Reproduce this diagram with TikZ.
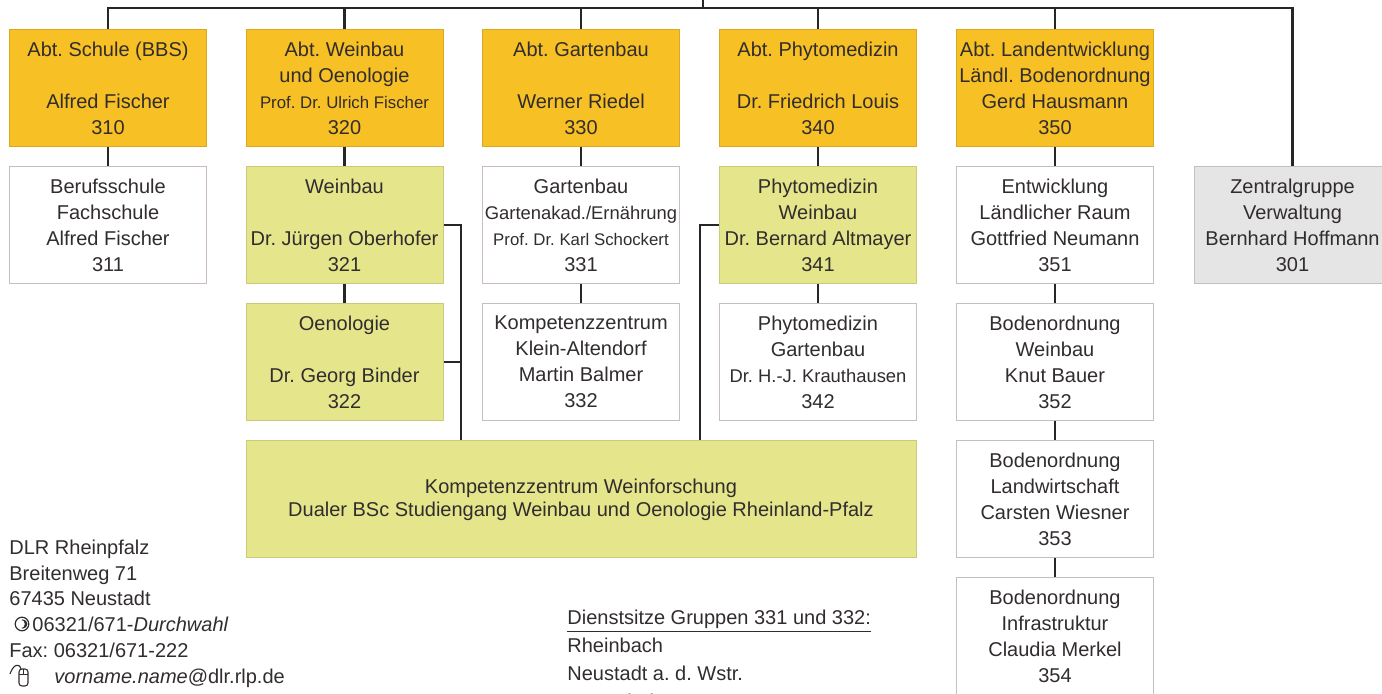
\documentclass[tikz,border=0pt]{standalone}
\usepackage{fontspec}
\setmainfont{Liberation Sans}
\frenchspacing
\definecolor{abtgelb}{RGB}{247,192,36}
\definecolor{weingruen}{RGB}{229,229,140}
\definecolor{zgrau}{RGB}{229,229,229}
\definecolor{rand}{RGB}{200,190,190}
\definecolor{schrift}{RGB}{50,45,45}
\begin{document}
\begin{tikzpicture}[x=0.5pt,y=-0.5pt,
    einheit/.style={draw=rand,fill=white,line width=0.5pt,minimum width=98.5pt,minimum height=58.5pt,
      inner sep=0pt,align=center,text=schrift,font=\fontsize{10}{13}\selectfont},
    abt/.style={einheit,fill=abtgelb,draw=abtgelb!88!black},
    wein/.style={einheit,fill=weingruen,draw=weingruen!88!black},
    zentral/.style={einheit,fill=zgrau},
    linie/.style={line width=1.3pt,draw=black!85},
    info/.style={inner sep=0pt,align=left,text=schrift,anchor=north west}]
  \path[use as bounding box] (0,0) rectangle (1382,694);
  \clip (0,0) rectangle (1382,694);

  \node[abt] (a310) at (108,88) {Abt. Schule (BBS)\\[13pt]Alfred Fischer\\310};
  \node[abt] (a320) at (344.5,88) {Abt. Weinbau\\und Oenologie\\{\fontsize{8.4}{13}\selectfont Prof. Dr. Ulrich Fischer}\\320};
  \node[abt] (a330) at (581,88) {Abt. Gartenbau\\[13pt]Werner Riedel\\330};
  \node[abt] (a340) at (818,88) {Abt. Phytomedizin\\[13pt]Dr. Friedrich Louis\\340};
  \node[abt] (a350) at (1055,88) {Abt. Landentwicklung\\Ländl. Bodenordnung\\Gerd Hausmann\\350};

  \node[einheit] (g311) at (108,225) {Berufsschule\\Fachschule\\Alfred Fischer\\311};
  \node[wein] (g321) at (344.5,225) {Weinbau\\[13pt]Dr. Jürgen Oberhofer\\321};
  \node[einheit] (g331) at (581,225) {Gartenbau\\{\fontsize{9.2}{13}\selectfont Gartenakad./Ernährung}\\{\fontsize{8.4}{13}\selectfont Prof. Dr. Karl Schockert}\\331};
  \node[wein] (g341) at (818,225) {Phytomedizin\\Weinbau\\Dr. Bernard Altmayer\\341};
  \node[einheit] (g351) at (1055,225) {Entwicklung\\Ländlicher Raum\\Gottfried Neumann\\351};
  \node[zentral] (g301) at (1292.5,225) {Zentralgruppe\\Verwaltung\\Bernhard Hoffmann\\301};

  \node[wein] (g322) at (344.5,362) {Oenologie\\[13pt]Dr. Georg Binder\\322};
  \node[einheit] (g332) at (581,362) {Kompetenzzentrum\\Klein-Altendorf\\Martin Balmer\\332};
  \node[einheit] (g342) at (818,362) {Phytomedizin\\Gartenbau\\{\fontsize{9.2}{13}\selectfont Dr. H.-J. Krauthausen}\\342};
  \node[einheit] (g352) at (1055,362) {Bodenordnung\\Weinbau\\Knut Bauer\\352};

  \node[wein,minimum width=335pt] (kwf) at (581,499.5) {Kompetenzzentrum Weinforschung\\[-1.5pt]Dualer BSc Studiengang Weinbau und Oenologie Rheinland-Pfalz};
  \node[einheit] (g353) at (1055,499.5) {Bodenordnung\\Landwirtschaft\\Carsten Wiesner\\353};
  \node[einheit] (g354) at (1055,636.5) {Bodenordnung\\Infrastruktur\\Claudia Merkel\\354};

  \coordinate (stamm) at (703,0);
  \coordinate (bus) at (703,8);
  \coordinate (kl) at ([xshift=-60pt]kwf.north);
  \coordinate (kr) at ([xshift=59.5pt]kwf.north);

  \draw[linie] (stamm) -- (bus);
  \draw[linie] (a310.north) -- (a310.north |- bus) -- (g301.north |- bus) -- (g301.north);
  \foreach \n in {a320,a330,a340,a350}
    \draw[linie] (\n.north) -- (\n.north |- bus);
  \foreach \o/\u in {a310/g311,a320/g321,g321/g322,a330/g331,g331/g332,a340/g341,g341/g342,a350/g351,g351/g352,g352/g353,g353/g354}
    \draw[linie] (\o.south) -- (\u.north);
  \draw[linie] (g321.east) -| (kl);
  \draw[linie] (g322.east) -- (g322.east -| kl);
  \draw[linie] (g341.west) -| (kr);

  \node[info,font=\fontsize{10}{12.9}\selectfont] (adresse) at (9,539.5)
    {DLR Rheinpfalz\\Breitenweg 71\\67435 Neustadt\\
     \hspace*{11.5pt}06321/671-\textit{Durchwahl}\\Fax: 06321/671-222\\
     \hspace*{22.5pt}\textit{vorname.name}@dlr.rlp.de};
  \node[info,font=\fontsize{10}{14}\selectfont] (dienstsitze) at (567,609.5)
    {\underline{Dienstsitze Gruppen 331 und 332:}\\Rheinbach\\Neustadt a. d. Wstr.\\Oppenheim};

  \coordinate (tel) at (22,624);
  \fill[schrift] ([xshift=0.4pt]tel) circle[radius=2.3pt];
  \fill[white] ([xshift=-0.7pt]tel) circle[radius=2.1pt];
  \draw[schrift,line width=0.6pt] (tel) circle[radius=3.4pt];

  \coordinate (maus) at (23.5,677);
  \draw[schrift,line width=0.55pt,rounded corners=1.5pt] (19,669) rectangle (28,686);
  \draw[schrift,line width=0.5pt] (19,675) -- (28,675) (23.5,669) -- (23.5,675);
  \draw[schrift,line width=0.55pt] (10,674) .. controls (13,665) and (19,662) .. (21,669);
\end{tikzpicture}
\end{document}
